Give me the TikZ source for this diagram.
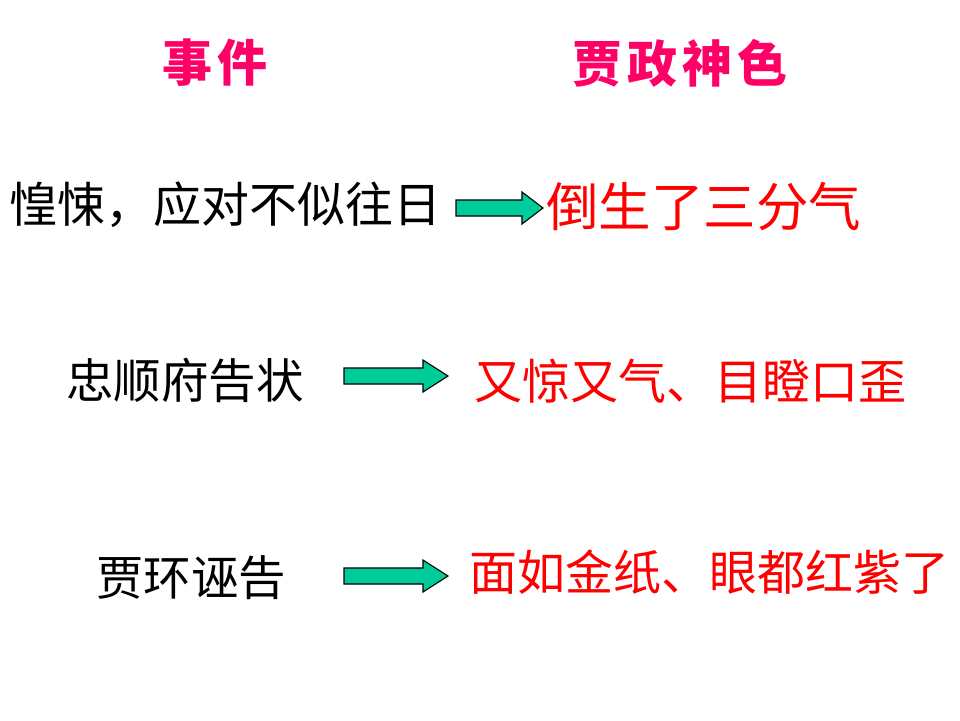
\documentclass[tikz,border=0pt]{standalone}
\usepackage{fontspec}
\newfontfamily\cjk{Noto Sans CJK SC}
\definecolor{headpink}{HTML}{FF0066}
\definecolor{arrowfill}{HTML}{00CC99}
\definecolor{redtext}{HTML}{FF0000}
\newcommand\mybarrow[5]{% name, x1, xh, x2, yc
  \draw[blockarrow] (#2pt,#5pt+8pt) -- (#3pt,#5pt+8pt) -- (#3pt,#5pt+16pt) -- (#4pt,#5pt)
    -- (#3pt,#5pt-16pt) -- (#3pt,#5pt-8pt) -- (#2pt,#5pt-8pt) -- cycle;
  \coordinate (#1) at (#4pt,#5pt);}
\tikzset{
  heading/.style={text=headpink, font=\cjk\bfseries\fontsize{50}{50}\selectfont, inner sep=0pt, anchor=west},
  evtext/.style={text=black, inner sep=0pt, anchor=west},
  retext/.style={text=redtext, inner sep=0pt, anchor=west},
  blockarrow/.style={fill=arrowfill, draw=black, line width=1.1pt, line join=miter}
}
\begin{document}
\begin{tikzpicture}[x=1pt,y=1pt]
\useasboundingbox[fill=white] (0,0) rectangle (960,-720);
% headings
\node[heading] (h1) at (162,-63) {事\hspace{5pt}件};
\node[heading] (h2) at (572,-63) {贾\hspace{5pt}政\hspace{5pt}神\hspace{5pt}色};
% row 1
\node[evtext, font=\cjk\fontsize{48}{48}\selectfont] (e1) at (9,-205) {惶悚，应对不似往日};
\mybarrow{a1}{456}{522}{543}{-208}
\node[retext, font=\cjk\fontsize{52.5}{52.5}\selectfont] (r1) at (546,-207) {倒生了三分气};
% row 2
\node[evtext, font=\cjk\fontsize{47.5}{47.5}\selectfont] (e2) at (66,-380) {忠顺府告状};
\mybarrow{a2}{344}{423}{448}{-376}
\node[retext, font=\cjk\fontsize{48}{48}\selectfont] (r2) at (474,-381) {又惊又气、目瞪口歪};
% row 3
\node[evtext, font=\cjk\fontsize{47.5}{47.5}\selectfont] (e3) at (96,-578) {贾环诬告};
\mybarrow{a3}{344}{423}{448}{-576}
\node[retext, font=\cjk\fontsize{48}{48}\selectfont] (r3) at (469,-572) {面如金纸、眼都红紫了};
\end{tikzpicture}
\end{document}
